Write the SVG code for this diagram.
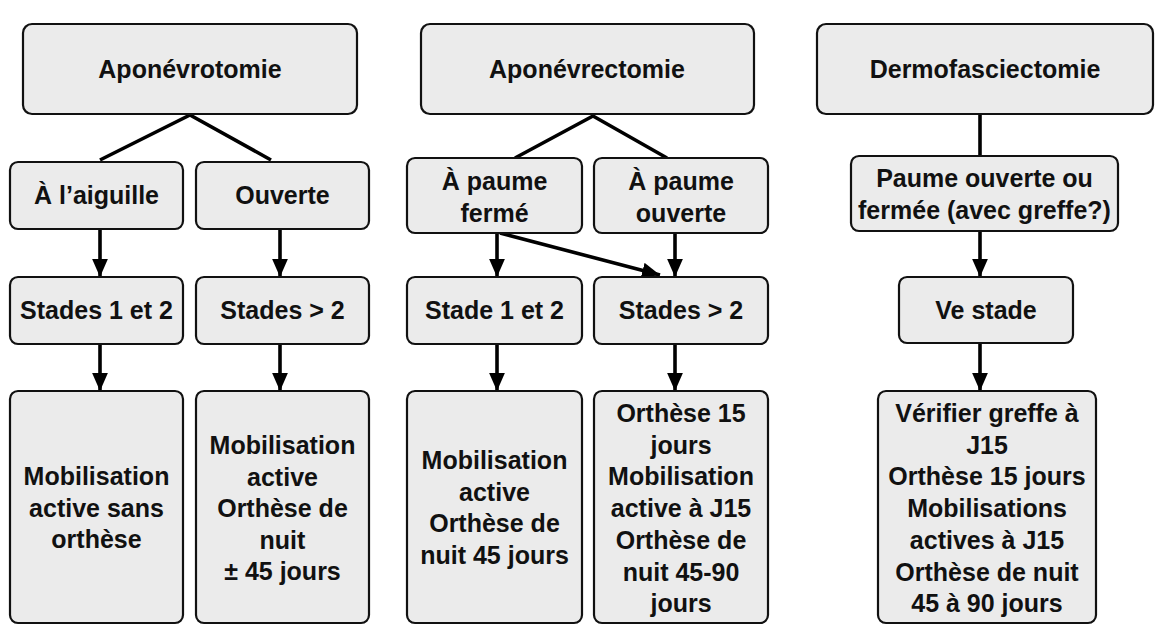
<svg xmlns="http://www.w3.org/2000/svg" width="1172" height="640" viewBox="0 0 1172 640">
<style>
.box{fill:#ebebeb;stroke:#111;stroke-width:2.2}
.t{font-family:"Liberation Sans",Arial,sans-serif;font-weight:bold;font-size:25px;fill:#111;text-anchor:middle}
.c{stroke:#000;stroke-width:3.6;fill:none}
.a{marker-end:url(#ah)}
</style>
<defs>
<marker id="ah" markerUnits="userSpaceOnUse" markerWidth="18" markerHeight="16" viewBox="0 0 16 14" refX="16" refY="7" orient="auto">
<path d="M0,0 L16,7 L0,14 Z" fill="#000"/>
</marker>
</defs>
<rect width="1172" height="640" fill="#fff"/>
<g id="connectors">
<path class="c" d="M100,160 L190,115 L271,160"/>
<path class="c" d="M515,158 L593,116 L667,158"/>
<path class="c" d="M980,114 L980,156"/>
<path class="c a" d="M100,229 L100,277"/>
<path class="c a" d="M280,229 L280,277"/>
<path class="c a" d="M100,344 L100,391"/>
<path class="c a" d="M280,344 L280,391"/>
<path class="c a" d="M497,233 L497,277"/>
<path class="c a" d="M500,233 L660,275"/>
<path class="c a" d="M675,233 L675,277"/>
<path class="c a" d="M497,344 L497,391"/>
<path class="c a" d="M675,344 L675,391"/>
<path class="c a" d="M980,231 L980,277"/>
<path class="c a" d="M980,343 L980,391"/>
</g>
<g id="n1"><rect class="box" x="23" y="24" width="334" height="90" rx="9"/><text class="t" x="190" y="78">Aponévrotomie</text></g>
<g id="n2"><rect class="box" x="421" y="24" width="333" height="90" rx="9"/><text class="t" x="587" y="78">Aponévrectomie</text></g>
<g id="n3"><rect class="box" x="817" y="24" width="336" height="90" rx="9"/><text class="t" x="985" y="78">Dermofasciectomie</text></g>
<g id="n4"><rect class="box" x="10" y="162" width="173" height="67" rx="8"/><text class="t" x="96.5" y="204">À l’aiguille</text></g>
<g id="n5"><rect class="box" x="196" y="162" width="173" height="67" rx="8"/><text class="t" x="282.5" y="204">Ouverte</text></g>
<g id="n6"><rect class="box" x="407" y="158" width="175" height="75" rx="8"/><text class="t" x="494.5" y="190">À paume<tspan x="494.5" dy="31.5">fermé</tspan></text></g>
<g id="n7"><rect class="box" x="594" y="158" width="174" height="75" rx="8"/><text class="t" x="681" y="190">À paume<tspan x="681" dy="31.5">ouverte</tspan></text></g>
<g id="n8"><rect class="box" x="851" y="156" width="267" height="75" rx="8"/><text class="t" x="984.5" y="187">Paume ouverte ou<tspan x="984.5" dy="31.5">fermée (avec greffe?)</tspan></text></g>
<g id="n9"><rect class="box" x="10" y="277" width="173" height="67" rx="8"/><text class="t" x="96.5" y="319">Stades 1 et 2</text></g>
<g id="n10"><rect class="box" x="196" y="277" width="173" height="67" rx="8"/><text class="t" x="282.5" y="319">Stades &gt; 2</text></g>
<g id="n11"><rect class="box" x="407" y="277" width="175" height="67" rx="8"/><text class="t" x="494.5" y="319">Stade 1 et 2</text></g>
<g id="n12"><rect class="box" x="594" y="277" width="174" height="67" rx="8"/><text class="t" x="681" y="319">Stades &gt; 2</text></g>
<g id="n13"><rect class="box" x="899" y="277" width="174" height="66" rx="8"/><text class="t" x="986" y="319">Ve stade</text></g>
<g id="n14"><rect class="box" x="10" y="391" width="173" height="232" rx="8"/><text class="t" x="96.5" y="485">Mobilisation<tspan x="96.5" dy="31.5">active sans</tspan><tspan x="96.5" dy="31.5">orthèse</tspan></text></g>
<g id="n15"><rect class="box" x="196" y="391" width="173" height="232" rx="8"/><text class="t" x="282.5" y="454">Mobilisation<tspan x="282.5" dy="31.5">active</tspan><tspan x="282.5" dy="31.5">Orthèse de</tspan><tspan x="282.5" dy="31.5">nuit</tspan><tspan x="282.5" dy="31.5">± 45 jours</tspan></text></g>
<g id="n16"><rect class="box" x="407" y="391" width="175" height="232" rx="8"/><text class="t" x="494.5" y="469">Mobilisation<tspan x="494.5" dy="31.5">active</tspan><tspan x="494.5" dy="31.5">Orthèse de</tspan><tspan x="494.5" dy="31.5">nuit 45 jours</tspan></text></g>
<g id="n17"><rect class="box" x="594" y="391" width="174" height="232" rx="8"/><text class="t" x="681" y="422">Orthèse 15<tspan x="681" dy="31.7">jours</tspan><tspan x="681" dy="31.7">Mobilisation</tspan><tspan x="681" dy="31.7">active à J15</tspan><tspan x="681" dy="31.7">Orthèse de</tspan><tspan x="681" dy="31.7">nuit 45-90</tspan><tspan x="681" dy="31.7">jours</tspan></text></g>
<g id="n18"><rect class="box" x="878" y="391" width="218" height="232" rx="8"/><text class="t" x="987" y="422">Vérifier greffe à<tspan x="987" dy="31.7">J15</tspan><tspan x="987" dy="31.7">Orthèse 15 jours</tspan><tspan x="987" dy="31.7">Mobilisations</tspan><tspan x="987" dy="31.7">actives à J15</tspan><tspan x="987" dy="31.7">Orthèse de nuit</tspan><tspan x="987" dy="31.7">45 à 90 jours</tspan></text></g>
</svg>
